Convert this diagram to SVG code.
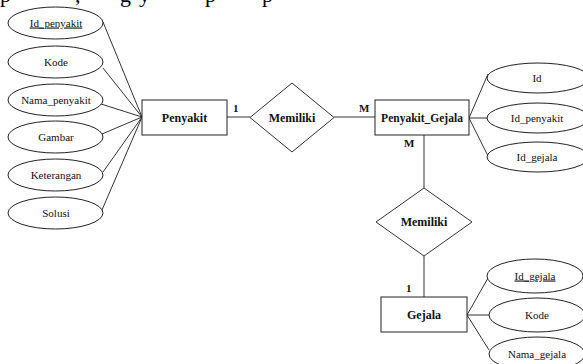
<svg xmlns="http://www.w3.org/2000/svg" width="583" height="364" viewBox="0 0 583 364">
<style>
.e{fill:#fff;stroke:#222;stroke-width:1}
.r{fill:#fff;stroke:#222;stroke-width:1}
.d{fill:#fff;stroke:#333;stroke-width:1}
.l{stroke:#333;stroke-width:1;fill:none}
.a{font-family:"Liberation Serif",serif;font-size:11px;fill:#111;text-anchor:middle}
.b{font-family:"Liberation Serif",serif;font-size:12px;font-weight:bold;fill:#111;text-anchor:middle}
.c{font-family:"Liberation Serif",serif;font-size:11px;font-weight:bold;fill:#111}
.u{text-decoration:underline}
.top{font-family:"Liberation Serif",serif;font-size:22px;fill:#000}
</style>
<rect width="583" height="364" fill="#fff"/>
<text class="top" y="2"><tspan x="0">p</tspan><tspan x="75">,</tspan><tspan x="120">g</tspan><tspan x="139">y</tspan><tspan x="205">p</tspan><tspan x="262">p</tspan></text>
<g id="connectors">
<line class="l" x1="103" y1="22" x2="142" y2="117"/>
<line class="l" x1="103" y1="68" x2="142" y2="117"/>
<line class="l" x1="101" y1="104" x2="142" y2="117"/>
<line class="l" x1="102" y1="134" x2="142" y2="117"/>
<line class="l" x1="103" y1="172" x2="142" y2="117"/>
<line class="l" x1="102" y1="210" x2="142" y2="117"/>
<line class="l" x1="227" y1="117" x2="250" y2="117"/>
<line class="l" x1="334" y1="117" x2="375" y2="117"/>
<line class="l" x1="469" y1="118" x2="488" y2="74"/>
<line class="l" x1="469" y1="118" x2="488" y2="118"/>
<line class="l" x1="469" y1="118" x2="488" y2="156"/>
<line class="l" x1="424" y1="135" x2="424" y2="188"/>
<line class="l" x1="424" y1="256" x2="424" y2="297"/>
<line class="l" x1="467" y1="315" x2="488" y2="278"/>
<line class="l" x1="467" y1="315" x2="489" y2="315"/>
<line class="l" x1="467" y1="315" x2="489" y2="350"/>
<text class="c" x="233" y="112">1</text>
<text class="c" x="359" y="112">M</text>
<text class="c" x="404" y="147">M</text>
<text class="c" x="406" y="292">1</text>
</g>
<g id="attr_id_penyakit"><ellipse class="e" cx="55.5" cy="23" rx="47.5" ry="16"/><text class="a u" x="56" y="26.5">Id_penyakit</text></g>
<g id="attr_kode_p"><ellipse class="e" cx="55.5" cy="62" rx="47.5" ry="16"/><text class="a" x="56" y="65.5">Kode</text></g>
<g id="attr_nama_penyakit"><ellipse class="e" cx="55.5" cy="100" rx="47.5" ry="16"/><text class="a" x="56" y="103.5">Nama_penyakit</text></g>
<g id="attr_gambar"><ellipse class="e" cx="55.5" cy="137" rx="47.5" ry="16"/><text class="a" x="56" y="140.5">Gambar</text></g>
<g id="attr_keterangan"><ellipse class="e" cx="55.5" cy="175" rx="47.5" ry="16"/><text class="a" x="56" y="178.5">Keterangan</text></g>
<g id="attr_solusi"><ellipse class="e" cx="55.5" cy="213" rx="47.5" ry="16"/><text class="a" x="56" y="216.5">Solusi</text></g>
<g id="penyakit"><rect class="r" x="142" y="100" width="85" height="35"/><text class="b" x="184.5" y="121.5">Penyakit</text></g>
<g id="memiliki1"><polygon class="d" points="292,83 334,117.5 292,152 250,117.5"/><text class="b" x="292" y="121.5">Memiliki</text></g>
<g id="penyakit_gejala"><rect class="r" x="375" y="100" width="94" height="35"/><text class="b" x="422" y="121.5" style="font-size:11.5px">Penyakit_Gejala</text></g>
<g id="attr_id"><ellipse class="e" cx="538" cy="78" rx="51" ry="15"/><text class="a" x="537" y="81.5">Id</text></g>
<g id="attr_pg_id_penyakit"><ellipse class="e" cx="538" cy="118" rx="51" ry="15"/><text class="a" x="537" y="121.5">Id_penyakit</text></g>
<g id="attr_pg_id_gejala"><ellipse class="e" cx="538" cy="157" rx="51" ry="15"/><text class="a" x="537" y="160.5">Id_gejala</text></g>
<g id="memiliki2"><polygon class="d" points="424,188 472,222 424,256 376,222"/><text class="b" x="424" y="226">Memiliki</text></g>
<g id="gejala"><rect class="r" x="381" y="297" width="86" height="35"/><text class="b" x="424" y="318.5">Gejala</text></g>
<g id="attr_id_gejala"><ellipse class="e" cx="535" cy="276" rx="48" ry="17"/><text class="a u" x="535" y="279.5">Id_gejala</text></g>
<g id="attr_kode_g"><ellipse class="e" cx="537" cy="315" rx="48" ry="17"/><text class="a" x="537" y="318.5">Kode</text></g>
<g id="attr_nama_gejala"><ellipse class="e" cx="537" cy="354" rx="48" ry="17"/><text class="a" x="537" y="357.5">Nama_gejala</text></g>
</svg>
